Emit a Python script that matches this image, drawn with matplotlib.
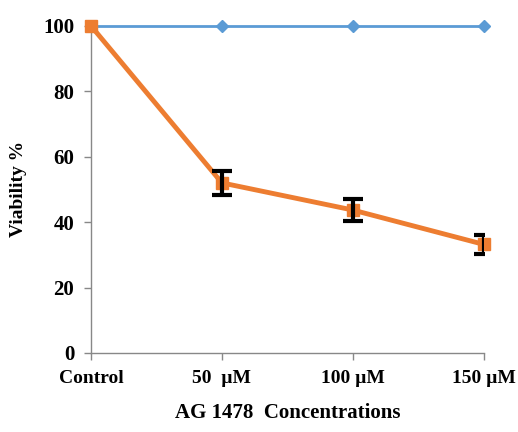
import matplotlib
matplotlib.use("Agg")
import matplotlib.pyplot as plt

categories = ["Control", "50  \u00b5M", "100 \u00b5M", "150 \u00b5M"]
control_values = [100, 100, 100, 100]
treated_values = [100, 52, 43.7, 33.2]
treated_err = [0, 3.6, 3.4, 3.0]

plt.rcParams['font.family'] = ['Liberation Serif', 'DejaVu Serif']
plt.rcParams['font.weight'] = 'bold'

fig = plt.figure(figsize=(5.18, 4.32), dpi=100)
ax = fig.add_axes([0.1757, 0.183, 0.758, 0.757])

x = list(range(len(categories)))
ax.plot(x, control_values, color='#5B9BD5', lw=2, marker='D', ms=6,
        clip_on=False, zorder=3)
ax.plot(x, treated_values, color='#ED7D31', lw=3.5, marker='s', ms=9,
        clip_on=False, zorder=4)
ax.errorbar(x[1:], treated_values[1:], yerr=treated_err[1:], fmt='none',
            ecolor='black', elinewidth=3, capsize=7, capthick=3, zorder=5)

ax.set_xlim(0, 3)
ax.set_ylim(0, 100)
ax.set_yticks([0, 20, 40, 60, 80, 100])
ax.set_xticks(x)
ax.set_xticklabels(categories, fontsize=14, fontweight='bold')
for lab in ax.get_yticklabels():
    lab.set_fontsize(15)
    lab.set_fontweight('bold')

for s in ['top', 'right']:
    ax.spines[s].set_visible(False)
for s in ['left', 'bottom']:
    ax.spines[s].set_color('#888888')
    ax.spines[s].set_linewidth(1)
ax.tick_params(axis='both', color='#888888', length=5, width=1, pad=7)

ax.set_ylabel("Viability %", fontsize=14, fontweight='bold', labelpad=12)
ax.set_xlabel("AG 1478  Concentrations", fontsize=15, fontweight='bold', labelpad=12)

fig.savefig("out.png", dpi=100)
